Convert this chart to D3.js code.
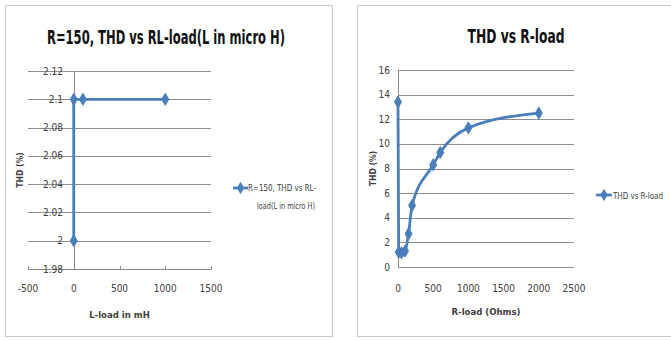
<!DOCTYPE html>
<html>
<head>
<meta charset="utf-8">
<script src="https://cdn.jsdelivr.net/npm/d3@7"></script>
<style>
  html, body { margin: 0; padding: 0; background: #fff; }
  svg { display: block; }
  text { font-family: "Liberation Sans Narrow", "DejaVu Sans Condensed", "Roboto Condensed", "Liberation Sans", sans-serif; }
</style>
</head>
<body>
<svg id="chart" width="671" height="340"></svg>
<script>
// ---- Data: left chart (R=150, THD vs RL-load) ----
const leftL = [0, 0, 100, 1000];
const leftTHD = [2.0, 2.1, 2.1, 2.1];
const leftXTicks = [-500, 0, 500, 1000, 1500];
const leftYTicks = [1.98, 2.0, 2.02, 2.04, 2.06, 2.08, 2.1, 2.12];
const leftYLabels = ["1.98", "2", "2.02", "2.04", "2.06", "2.08", "2.1", "2.12"];

// ---- Data: right chart (THD vs R-load) ----
const rightR = [0, 10, 50, 100, 150, 200, 500, 600, 1000, 2000];
const rightTHD = [13.4, 1.2, 1.15, 1.3, 2.7, 5.0, 8.3, 9.3, 11.3, 12.5];
const rightXTicks = [0, 500, 1000, 1500, 2000, 2500];
const rightYTicks = [0, 2, 4, 6, 8, 10, 12, 14, 16];

const blue = "#4a7ebb";
const grid = "#8c8c8c";
const txt = "#404040";

const svg = d3.select("#chart");

function diamond(parent, pts, size) {
  const g = parent.append("g");
  g.selectAll("path").data(pts).join("path")
    .attr("d", d3.symbol().type(d3.symbolDiamond).size(size))
    .attr("transform", d => `translate(${d[0]},${d[1]})`)
    .attr("fill", blue).attr("stroke", blue).attr("stroke-width", 1);
}

// ===== LEFT CHART =====
{
  const g = svg.append("g");
  g.append("rect").attr("x", 5.5).attr("y", 5.5).attr("width", 327).attr("height", 331)
    .attr("fill", "#fff").attr("stroke", "#c8c8c8");

  g.append("text").attr("x", 166).attr("y", 44).attr("text-anchor", "middle")
    .attr("font-size", 20).attr("font-weight", "bold").attr("fill", "#111")
    .attr("textLength", 238).attr("lengthAdjust", "spacingAndGlyphs")
    .text("R=150, THD vs RL-load(L in micro H)");

  const x = d3.scaleLinear().domain([-500, 1500]).range([28, 211]);
  const y = d3.scaleLinear().domain([1.98, 2.12]).range([269, 71]);

  g.append("g").selectAll("line").data(leftYTicks).join("line")
    .attr("x1", x(-500)).attr("x2", x(1500))
    .attr("y1", d => Math.round(y(d)) + 0.5).attr("y2", d => Math.round(y(d)) + 0.5)
    .attr("stroke", grid).attr("stroke-width", 1);

  g.append("line").attr("x1", Math.round(x(0)) + 0.5).attr("x2", Math.round(x(0)) + 0.5)
    .attr("y1", y(2.12)).attr("y2", y(1.98)).attr("stroke", grid);

  g.append("g").selectAll("line").data(leftXTicks).join("line")
    .attr("x1", d => Math.round(x(d)) + 0.5).attr("x2", d => Math.round(x(d)) + 0.5)
    .attr("y1", Math.round(y(1.98)) - 3).attr("y2", Math.round(y(1.98)) + 0.5)
    .attr("stroke", grid);

  g.append("g").selectAll("text").data(leftYTicks).join("text")
    .attr("x", 63).attr("y", d => y(d) + 3.5).attr("text-anchor", "end")
    .attr("font-size", 10).attr("fill", txt)
    .text((d, i) => leftYLabels[i]);

  g.append("g").selectAll("text").data(leftXTicks).join("text")
    .attr("x", d => x(d)).attr("y", 292).attr("text-anchor", "middle")
    .attr("font-size", 10).attr("fill", txt)
    .text(d => d);

  g.append("text").attr("x", x(500)).attr("y", 318).attr("text-anchor", "middle")
    .attr("font-size", 9.5).attr("font-weight", "bold").attr("fill", txt)
    .text("L-load in mH");
  g.append("text").attr("transform", `translate(23,${(y(2.12) + y(1.98)) / 2}) rotate(-90)`)
    .attr("text-anchor", "middle").attr("font-size", 8.5).attr("font-weight", "bold").attr("fill", txt)
    .text("THD (%)");

  const pts = leftL.map((d, i) => [x(d), y(leftTHD[i])]);
  g.append("path").attr("d", d3.line().curve(d3.curveLinear)(pts))
    .attr("fill", "none").attr("stroke", blue).attr("stroke-width", 2.8);
  diamond(g, pts, 42);

  // legend
  g.append("line").attr("x1", 233).attr("x2", 248).attr("y1", 188).attr("y2", 188)
    .attr("stroke", blue).attr("stroke-width", 2.8);
  diamond(g, [[240.5, 188]], 34);
  g.append("text").attr("x", 248).attr("y", 191).attr("text-anchor", "start")
    .attr("font-size", 9).attr("fill", txt)
    .attr("textLength", 68).attr("lengthAdjust", "spacingAndGlyphs").text("R=150, THD vs RL-");
  g.append("text").attr("x", 257).attr("y", 209).attr("text-anchor", "start")
    .attr("font-size", 9).attr("fill", txt)
    .attr("textLength", 58).attr("lengthAdjust", "spacingAndGlyphs").text("load(L in micro H)");
}

// ===== RIGHT CHART =====
{
  const g = svg.append("g");
  g.append("rect").attr("x", 357.5).attr("y", 5.5).attr("width", 320).attr("height", 331)
    .attr("fill", "#fff").attr("stroke", "#c8c8c8");

  g.append("text").attr("x", 516).attr("y", 43).attr("text-anchor", "middle")
    .attr("font-size", 20).attr("font-weight", "bold").attr("fill", "#111")
    .attr("textLength", 97).attr("lengthAdjust", "spacingAndGlyphs")
    .text("THD  vs R-load");

  const x = d3.scaleLinear().domain([0, 2500]).range([398, 574]);
  const y = d3.scaleLinear().domain([0, 16]).range([267, 70]);

  g.append("g").selectAll("line").data(rightYTicks).join("line")
    .attr("x1", x(0)).attr("x2", x(2500))
    .attr("y1", d => Math.round(y(d)) + 0.5).attr("y2", d => Math.round(y(d)) + 0.5)
    .attr("stroke", grid);

  g.append("line").attr("x1", Math.round(x(0)) + 0.5).attr("x2", Math.round(x(0)) + 0.5)
    .attr("y1", y(16)).attr("y2", y(0)).attr("stroke", grid);

  g.append("g").selectAll("text").data(rightYTicks).join("text")
    .attr("x", 390).attr("y", d => y(d) + 3.5).attr("text-anchor", "end")
    .attr("font-size", 10).attr("fill", txt).text(d => d);

  g.append("g").selectAll("text").data(rightXTicks).join("text")
    .attr("x", d => x(d)).attr("y", 292).attr("text-anchor", "middle")
    .attr("font-size", 10).attr("fill", txt).text(d => d);

  g.append("text").attr("x", x(1250)).attr("y", 315).attr("text-anchor", "middle")
    .attr("font-size", 9.5).attr("font-weight", "bold").attr("fill", txt)
    .text("R-load (Ohms)");
  g.append("text").attr("transform", `translate(376,${(y(16) + y(0)) / 2}) rotate(-90)`)
    .attr("text-anchor", "middle").attr("font-size", 8.5).attr("font-weight", "bold").attr("fill", txt)
    .text("THD (%)");

  const pts = rightR.map((d, i) => [x(d), y(rightTHD[i])]);
  // first segment (vertical drop) straight, rest smoothed
  const first = d3.line()(pts.slice(0, 2));
  const rest = d3.line().curve(d3.curveMonotoneX)(pts.slice(1));
  g.append("path").attr("d", first + rest)
    .attr("fill", "none").attr("stroke", blue).attr("stroke-width", 2.8);
  diamond(g, pts, 42);

  g.append("line").attr("x1", 596).attr("x2", 612).attr("y1", 195).attr("y2", 195)
    .attr("stroke", blue).attr("stroke-width", 2.8);
  diamond(g, [[604, 195]], 34);
  g.append("text").attr("x", 613).attr("y", 198.5).attr("text-anchor", "start")
    .attr("font-size", 9).attr("fill", txt)
    .attr("textLength", 50).attr("lengthAdjust", "spacingAndGlyphs").text("THD  vs R-load");
}
</script>
</body>
</html>
